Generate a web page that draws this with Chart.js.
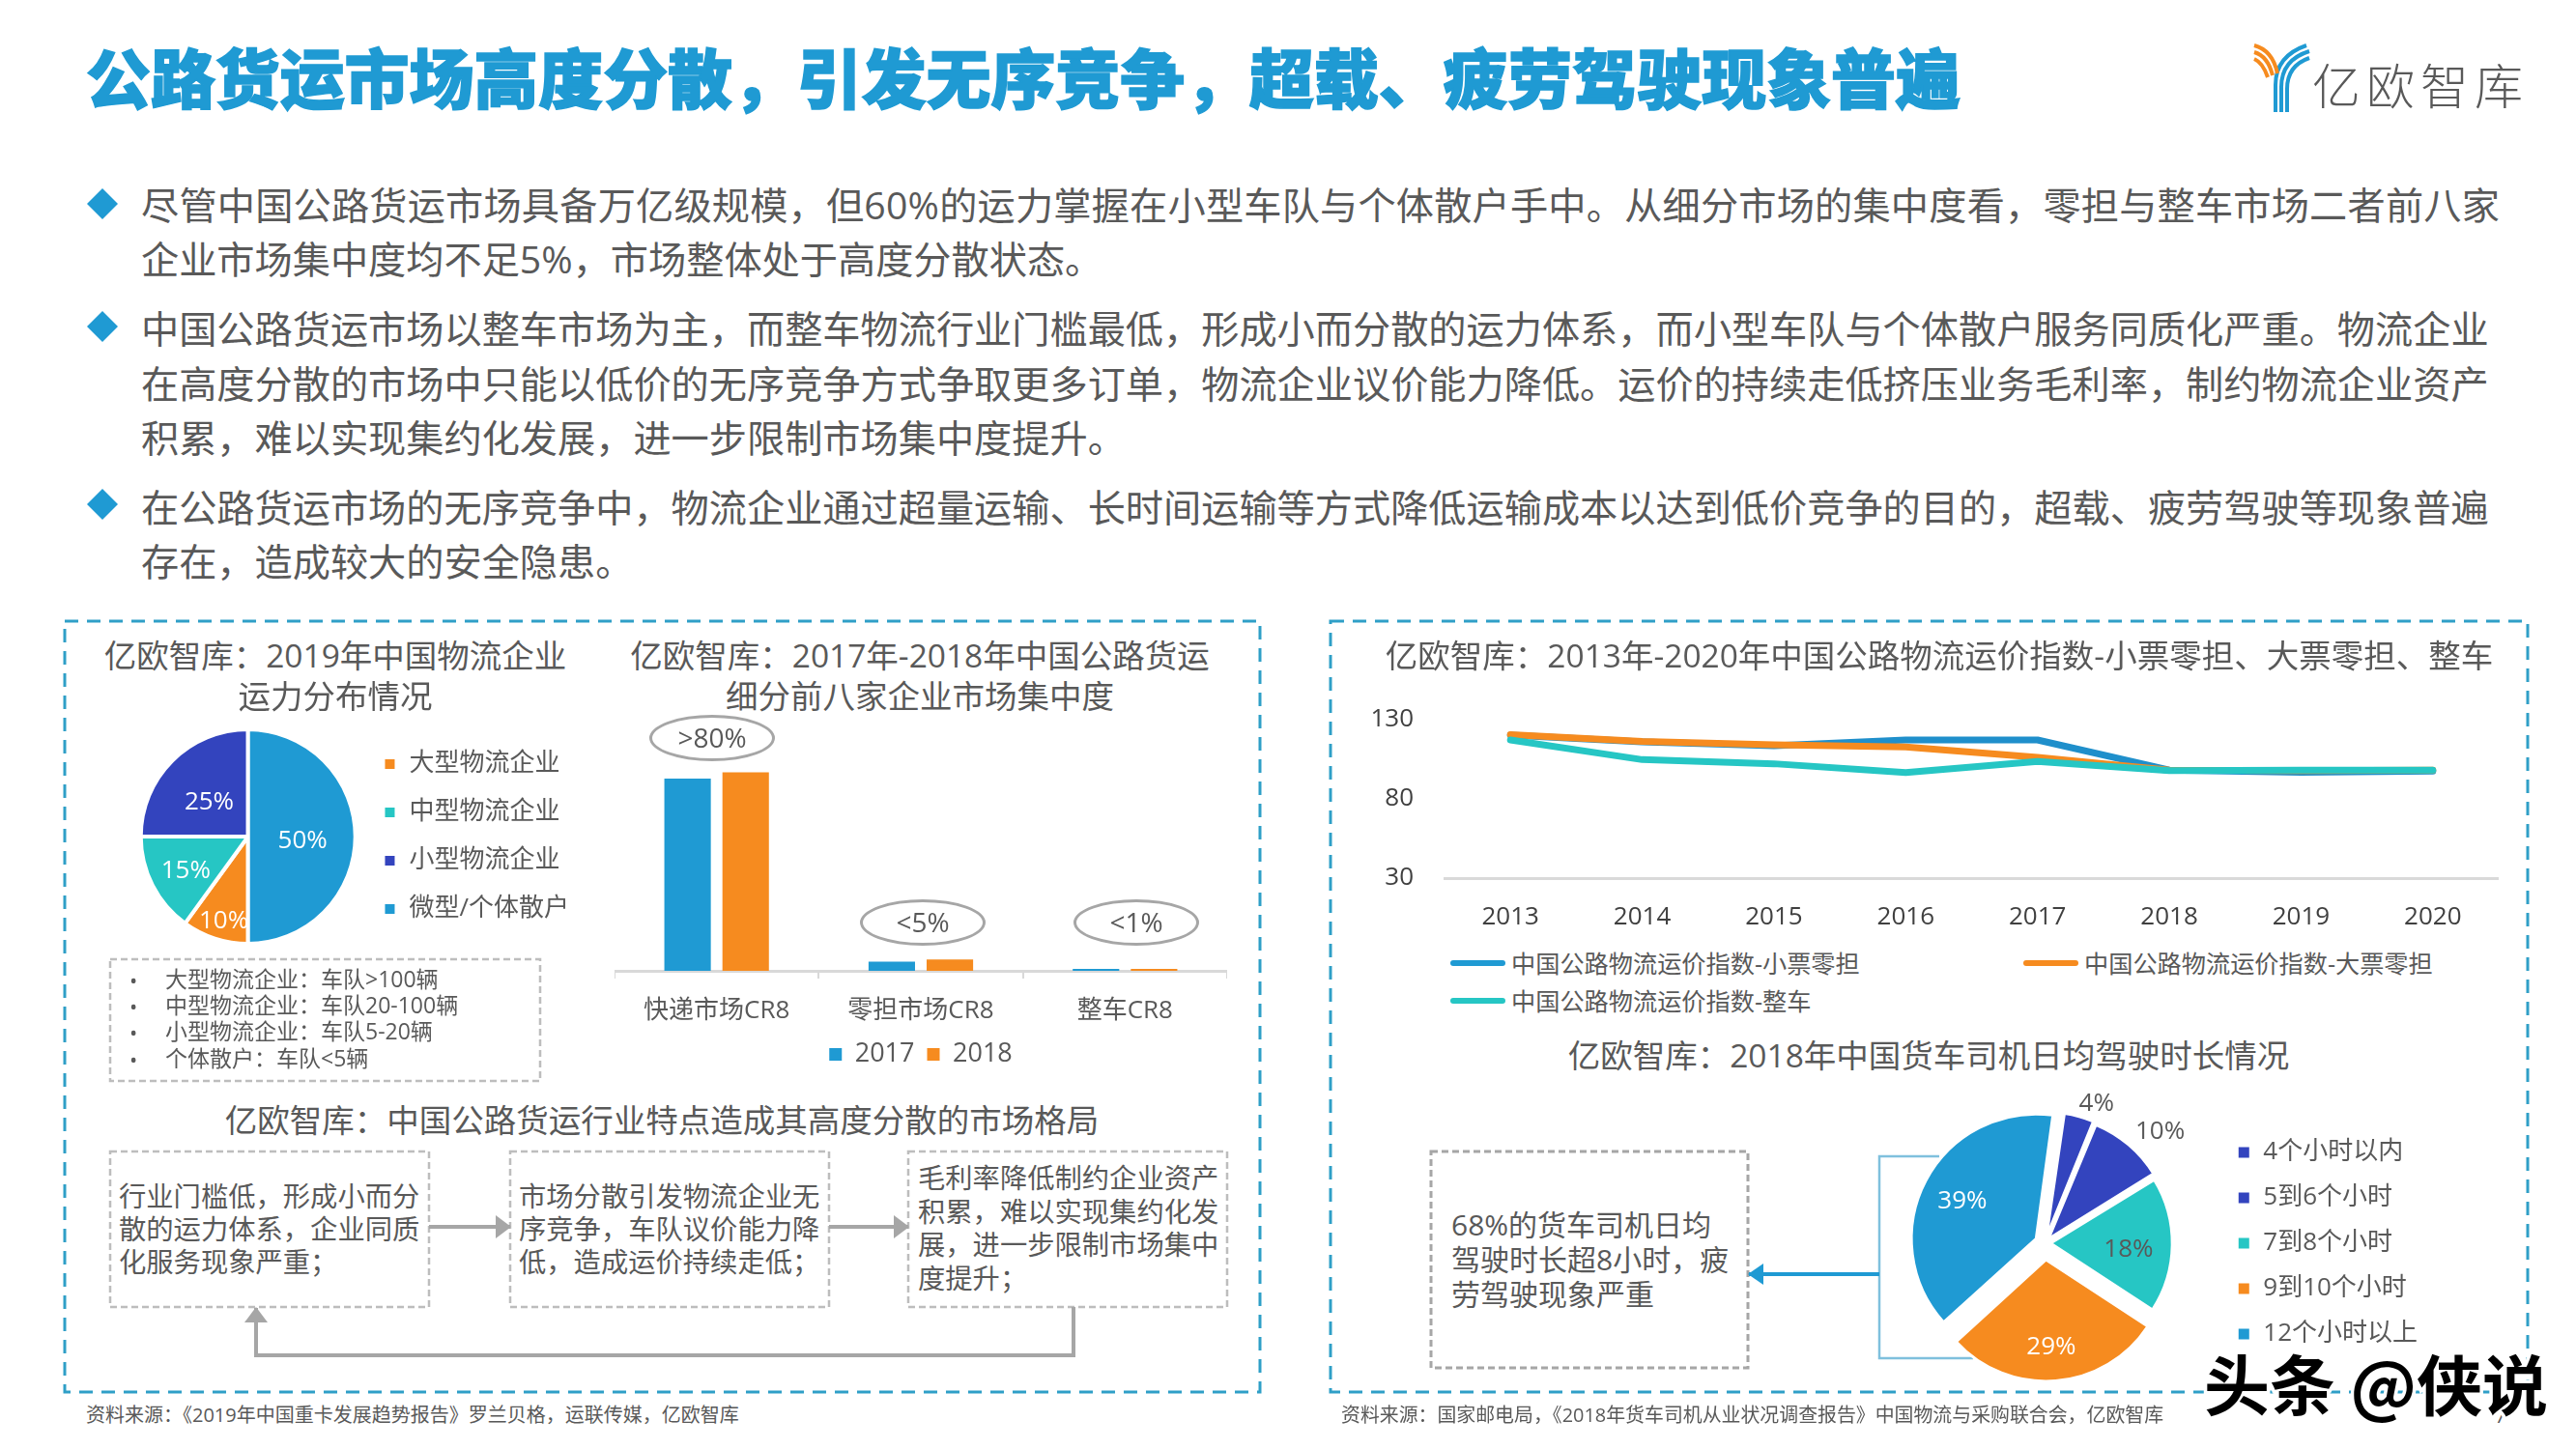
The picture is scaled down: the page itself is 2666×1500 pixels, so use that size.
<!DOCTYPE html>
<html lang="zh">
<head>
<meta charset="utf-8">
<title>公路货运市场高度分散</title>
<script src="https://cdn.jsdelivr.net/npm/chart.js@4/dist/chart.umd.min.js"></script>
<style>
  html, body { margin: 0; padding: 0; background: #fff; }
  #page { position: relative; width: 2666px; height: 1500px; overflow: hidden; font-family: "Open Sans", "Noto Sans CJK SC", sans-serif; color: #595959; }
  #page canvas { position: absolute; z-index: 2; }
  #shapes { position: absolute; left: 0; top: 0; z-index: 1; }
  .t { position: absolute; white-space: pre; transform: translateY(-50%); line-height: 1.2; z-index: 3; }
  .c { transform: translate(-50%, -50%); }
  #mark { position: absolute; left: 2281px; top: 1381px; font: 700 68px "Noto Sans CJK SC", sans-serif; color: #000; -webkit-text-stroke: 7px #fff; paint-order: stroke fill; z-index: 5; white-space: pre; }
</style>
</head>
<body>
<div id="page">
  <svg id="shapes" width="2666" height="1500" viewBox="0 0 2666 1500">
    <defs>
      <marker id="headGrey" markerUnits="userSpaceOnUse" markerWidth="16" markerHeight="24" refX="15" refY="12" orient="auto"><path d="M0 0L16 12L0 24Z" fill="#a6a6a6"/></marker>
      <marker id="headBlue" markerUnits="userSpaceOnUse" markerWidth="16" markerHeight="22" refX="15" refY="11" orient="auto"><path d="M0 0L16 11L0 22Z" fill="#1f9ad3"/></marker>
    </defs>
    <!-- logo -->
    <g fill="none" stroke-width="4">
      <path d="M2355 116V88Q2355 58 2387 47" stroke="#1f9ad3"/>
      <path d="M2361 116V90Q2361 62 2390 53" stroke="#1f9ad3"/>
      <path d="M2367 116V92Q2367 68 2390 60" stroke="#1f9ad3"/>
      <path d="M2333 47Q2352 52 2357 76" stroke="#f68b1f"/>
      <path d="M2333 54Q2347 58 2352 78" stroke="#f68b1f"/>
      <path d="M2333 61Q2342 65 2347 80" stroke="#f68b1f"/>
    </g>
    <!-- bullets -->
    <g fill="#1f9ad3">
      <path d="M106 195L122 211L106 227L90 211Z"/>
      <path d="M106 322L122 338L106 354L90 338Z"/>
      <path d="M106 506L122 522L106 538L90 522Z"/>
    </g>
    <!-- panels -->
    <g fill="none" stroke="#2f9fc7" stroke-width="3" stroke-dasharray="14 9">
      <rect x="67" y="643" width="1237" height="798"/>
      <rect x="1377" y="643" width="1239" height="798"/>
    </g>
    <!-- dashed boxes -->
    <g fill="none" stroke="#bdbdbd" stroke-width="2.5" stroke-dasharray="7 4">
      <rect x="114" y="993" width="445" height="126"/>
      <rect x="114" y="1192" width="330" height="161"/>
      <rect x="528" y="1192" width="330" height="161"/>
      <rect x="940" y="1192" width="330" height="161"/>
      <rect x="1481" y="1192" width="328" height="224" stroke="#a6a6a6" stroke-width="3"/>
    </g>
    <!-- flow arrows -->
    <g fill="none" stroke="#a6a6a6" stroke-width="4">
      <path d="M444 1270H528" marker-end="url(#headGrey)"/>
      <path d="M858 1270H940" marker-end="url(#headGrey)"/>
      <path d="M1111 1353V1403H265V1354" marker-end="url(#headGrey)"/>
    </g>
    <!-- bracket to the callout -->
    <path d="M2007 1197H1945V1406H2042" fill="none" stroke="#7fc0dd" stroke-width="2.5"/>
    <path d="M1945 1319H1810" fill="none" stroke="#1f9ad3" stroke-width="4" marker-end="url(#headBlue)"/>
  </svg>

  <canvas id="pieFleet" style="left:141px;top:733px" width="458" height="266"></canvas>
  <canvas id="barCr8" style="left:636px;top:752px" width="634" height="363"></canvas>
  <canvas id="lineIndex" style="left:1400px;top:697px" width="1186" height="260"></canvas>
  <canvas id="pieHours" style="left:1938px;top:1117px" width="574" height="340"></canvas>

  <div id="mark">头条 @侠说</div>
</div>

<script>
// ---- data ----
const fleetTypes = ['大型物流企业', '中型物流企业', '小型物流企业', '微型/个体散户'];
const fleetShares = [10, 15, 25, 50];

const cr8Markets = ['快递市场CR8', '零担市场CR8', '整车CR8'];
const cr8Years = ['2017', '2018'];
const cr8Values2017 = [78.7, 3.8, 0.8];
const cr8Values2018 = [81.2, 4.6, 0.8];

const indexYears = ['2013', '2014', '2015', '2016', '2017', '2018', '2019', '2020'];
const indexSeriesNames = ['中国公路物流运价指数-小票零担', '中国公路物流运价指数-大票零担', '中国公路物流运价指数-整车'];
const indexSmallLtl = [120, 115.8, 113.4, 117, 117, 98, 96.6, 97.4];
const indexLargeLtl = [120.4, 116, 114, 112.6, 106, 98, 97.6, 98];
const indexTruckload = [117, 104.6, 102, 96.4, 103.4, 97.6, 98, 98];

const hourBands = ['4个小时以内', '5到6个小时', '7到8个小时', '9到10个小时', '12个小时以上'];
const hourShares = [4, 10, 18, 29, 39];

const BLUE = '#1f9ad3', ORANGE = '#f68b1f', TEAL = '#26c6c4', INDIGO = '#3344be';
const GREY_TEXT = '#595959';

// ---- page text ----
const page = document.getElementById('page');

function put(text, x, y, size, opts = {}) {
    const el = document.createElement('div');
    el.className = opts.center ? 't c' : 't';
    el.textContent = text;
    el.style.left = x + 'px';
    el.style.top = y + 'px';
    el.style.fontSize = size + 'px';
    if (opts.weight) el.style.fontWeight = opts.weight;
    if (opts.color) el.style.color = opts.color;
    if (opts.spacing) el.style.letterSpacing = opts.spacing + 'px';
    if (opts.stroke) el.style.webkitTextStroke = opts.stroke;
    page.appendChild(el);
}

put('公路货运市场高度分散，引发无序竞争，超载、疲劳驾驶现象普遍', 89, 81, 66.9, { weight: 900, color: BLUE, stroke: '1.5px ' + BLUE });
put('亿欧智库', 2393, 89, 50, { spacing: 6, weight: 300 });

put('尽管中国公路货运市场具备万亿级规模，但60%的运力掌握在小型车队与个体散户手中。从细分市场的集中度看，零担与整车市场二者前八家', 146, 212, 39.2, { spacing: 0.2 });
put('企业市场集中度均不足5%，市场整体处于高度分散状态。', 146, 268, 39.2);
put('中国公路货运市场以整车市场为主，而整车物流行业门槛最低，形成小而分散的运力体系，而小型车队与个体散户服务同质化严重。物流企业', 146, 340, 39.2);
put('在高度分散的市场中只能以低价的无序竞争方式争取更多订单，物流企业议价能力降低。运价的持续走低挤压业务毛利率，制约物流企业资产', 146, 397, 39.2);
put('积累，难以实现集约化发展，进一步限制市场集中度提升。', 146, 453, 39.2);
put('在公路货运市场的无序竞争中，物流企业通过超量运输、长时间运输等方式降低运输成本以达到低价竞争的目的，超载、疲劳驾驶等现象普遍', 146, 525, 39.2);
put('存在，造成较大的安全隐患。', 146, 581, 39.2);

put('亿欧智库：2019年中国物流企业', 347, 678, 33.5, { center: true });
put('运力分布情况', 347, 720, 33.5, { center: true });
put('亿欧智库：2017年-2018年中国公路货运', 952, 678, 33.5, { center: true });
put('细分前八家企业市场集中度', 952, 720, 33.5, { center: true });
put('亿欧智库：中国公路货运行业特点造成其高度分散的市场格局', 685, 1159, 33.5, { center: true });
put('亿欧智库：2013年-2020年中国公路物流运价指数-小票零担、大票零担、整车', 2007, 678, 33.5, { center: true });
put('亿欧智库：2018年中国货车司机日均驾驶时长情况', 1996, 1092, 33.5, { center: true });

[['大型物流企业：车队>100辆', 1014], ['中型物流企业：车队20-100辆', 1041], ['小型物流企业：车队5-20辆', 1068], ['个体散户：车队<5辆', 1096]].forEach(([line, y]) => {
    put('•', 134, y, 22);
    put(line, 171, y, 23);
});

['行业门槛低，形成小而分', '散的运力体系，企业同质', '化服务现象严重；'].forEach((line, i) => put(line, 123, 1239 + i * 34, 28.3));
['市场分散引发物流企业无', '序竞争，车队议价能力降', '低，造成运价持续走低；'].forEach((line, i) => put(line, 537, 1239 + i * 34, 28.3));
['毛利率降低制约企业资产', '积累，难以实现集约化发', '展，进一步限制市场集中', '度提升；'].forEach((line, i) => put(line, 950, 1220 + i * 34.5, 28.3));
['68%的货车司机日均', '驾驶时长超8小时，疲', '劳驾驶现象严重'].forEach((line, i) => put(line, 1502, 1268 + i * 36, 30));

put('资料来源：《2019年中国重卡发展趋势报告》罗兰贝格，运联传媒，亿欧智库', 89, 1465, 20);
put('资料来源：国家邮电局，《2018年货车司机从业状况调查报告》中国物流与采购联合会，亿欧智库', 1388, 1465, 19.9);
put('7', 2582, 1466, 20);

// ovals over the bars
[['>80%', 737, 764], ['<5%', 955, 955], ['<1%', 1176, 955]].forEach(([label, x, y]) => {
    const oval = document.createElement('div');
    oval.style.cssText = `position:absolute;left:${x - 65}px;top:${y - 24}px;width:130px;height:48px;box-sizing:border-box;border:3px solid #a6a6a6;border-radius:50%;z-index:3`;
    page.appendChild(oval);
    put(label, x, y, 28, { center: true });
});

// line chart legend needs different x and y gaps, so it lives in the page
[[1501, 997], [2094, 997], [1501, 1036]].forEach(([x, y], i) => {
    const swatch = document.createElement('div');
    swatch.style.cssText = `position:absolute;left:${x}px;top:${y - 3}px;width:57px;height:6px;border-radius:3px;background:${[BLUE, ORANGE, TEAL][i]};z-index:3`;
    page.appendChild(swatch);
    put(indexSeriesNames[i], x + 63, y, 25.2);
});

// ---- charts ----
Chart.defaults.font.family = '"Open Sans", "Noto Sans CJK SC", sans-serif';
Chart.defaults.color = GREY_TEXT;
Chart.defaults.animation = false;
Chart.defaults.responsive = false;

// percent labels next to each slice, shift is relative to the slice centre
const sliceLabels = {
    id: 'sliceLabels',
    afterDatasetsDraw(chart, args, opts) {
        const { ctx } = chart;
        const values = chart.data.datasets[0].data;
        chart.getDatasetMeta(0).data.forEach((arc, i) => {
            const p = arc.getCenterPoint();
            ctx.save();
            ctx.font = `${opts.size}px ${Chart.defaults.font.family}`;
            ctx.fillStyle = opts.colors[i];
            ctx.textAlign = 'center';
            ctx.textBaseline = 'middle';
            ctx.fillText(values[i] + '%', p.x + opts.shift[i][0], p.y + opts.shift[i][1]);
            ctx.restore();
        });
    }
};

new Chart(document.getElementById('pieFleet'), {
    type: 'pie',
    plugins: [sliceLabels],
    data: {
        labels: fleetTypes,
        datasets: [{ data: fleetShares, backgroundColor: [ORANGE, TEAL, INDIGO, BLUE], borderColor: '#fff', borderWidth: 4 }]
    },
    options: {
        rotation: 180,
        radius: 111,
        plugins: {
            tooltip: { enabled: false },
            legend: { position: 'right', labels: { font: { size: 26 }, boxWidth: 14, boxHeight: 14, padding: 24, color: GREY_TEXT } },
            sliceLabels: {
                size: 26,
                colors: ['#fff', '#fff', '#fff', '#fff'],
                shift: [[-8, 35], [-15, 10], [-1, 4], [1, 5]]
            }
        }
    }
});

new Chart(document.getElementById('barCr8'), {
    type: 'bar',
    data: {
        labels: cr8Markets,
        datasets: [
            { label: cr8Years[0], data: cr8Values2017, backgroundColor: BLUE },
            { label: cr8Years[1], data: cr8Values2018, backgroundColor: ORANGE }
        ]
    },
    options: {
        categoryPercentage: 0.569,
        barPercentage: 0.8,
        scales: {
            x: {
                afterFit: scale => { scale.height = 60; },
                grid: { drawOnChartArea: false, tickLength: 8, color: '#d9d9d9', lineWidth: 2 },
                border: { color: '#d9d9d9', width: 3 },
                ticks: { font: { size: 26 }, padding: 18, color: GREY_TEXT }
            },
            y: { display: false, min: 0, max: 100 }
        },
        plugins: {
            tooltip: { enabled: false },
            legend: { position: 'bottom', labels: { font: { size: 27 }, boxWidth: 13, boxHeight: 13, padding: 13, color: GREY_TEXT } }
        }
    }
});

const indexLine = (label, data, color, order) => ({
    label, data, order, borderColor: color, backgroundColor: color,
    borderWidth: 7, pointRadius: 0, tension: 0, borderCapStyle: 'round', borderJoinStyle: 'round'
});

new Chart(document.getElementById('lineIndex'), {
    type: 'line',
    data: {
        labels: indexYears,
        datasets: [
            indexLine(indexSeriesNames[0], indexSmallLtl, '#1f8fcb', 2),
            indexLine(indexSeriesNames[1], indexLargeLtl, ORANGE, 1),
            indexLine(indexSeriesNames[2], indexTruckload, TEAL, 0)
        ]
    },
    options: {
        scales: {
            x: {
                offset: true,
                afterFit: scale => { scale.height = 48; },
                grid: { display: false },
                border: { color: '#d9d9d9', width: 3 },
                ticks: { font: { size: 26 }, padding: 17, color: '#404040' }
            },
            y: {
                min: 30, max: 130,
                afterFit: scale => { scale.width = 95; },
                grid: { display: false, drawTicks: false },
                border: { display: false },
                ticks: { stepSize: 50, font: { size: 26 }, padding: 32, color: '#404040' }
            }
        },
        plugins: { legend: { display: false }, tooltip: { enabled: false } }
    }
});

new Chart(document.getElementById('pieHours'), {
    type: 'pie',
    plugins: [sliceLabels],
    data: {
        labels: hourBands,
        datasets: [{
            data: hourShares,
            backgroundColor: [INDIGO, INDIGO, TEAL, ORANGE, BLUE],
            borderColor: '#fff',
            borderWidth: 3,
            offset: [24, 24, 24, 68, 40]
        }]
    },
    options: {
        rotation: 8,
        radius: 125.5,
        plugins: {
            tooltip: { enabled: false },
            legend: { position: 'right', labels: { font: { size: 26 }, boxWidth: 14, boxHeight: 14, padding: 21, color: GREY_TEXT } },
            sliceLabels: {
                size: 26,
                colors: [GREY_TEXT, GREY_TEXT, GREY_TEXT, '#fff', '#fff'],
                shift: [[34, -72], [71, -58], [12, 6], [-1, 11], [-12, -5]]
            }
        }
    }
});
</script>
</body>
</html>
